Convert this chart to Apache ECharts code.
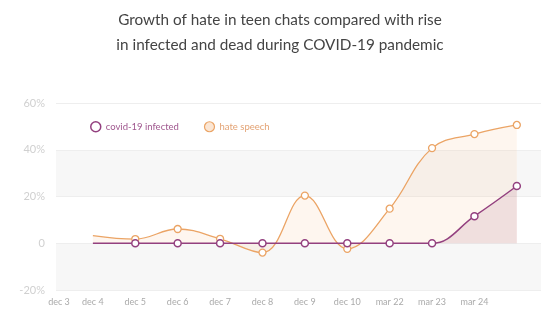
<!DOCTYPE html>
<html>
<head>
<meta charset="utf-8">
<script src="https://cdn.jsdelivr.net/npm/echarts@6/dist/echarts.min.js"></script>
<style>
html,body{margin:0;padding:0;background:#fff;}
#c{width:560px;height:326px;}
</style>
</head>
<body>
<div id="c"></div>
<script>
const titleLines = ['Growth of hate in teen chats compared with rise', 'in infected and dead during COVID-19 pandemic'];
const categories = ['dec 3','dec 4','dec 5','dec 6','dec 7','dec 8','dec 9','dec 10','mar 22','mar 23','mar 24',''];
const infected = [null, 0, 0, 0, 0, 0, 0, 0, 0, 0, 11.6, 24.5];
const hateSpeech = [null, 3.3, 1.8, 6.1, 1.9, -4.0, 20.4, -2.4, 14.8, 40.7, 46.7, 50.6];
const yTicks = [-20, 0, 20, 40, 60];

function toPoints(arr) {
  const out = [];
  let first = true;
  arr.forEach((v, i) => {
    if (v == null) return;
    if (first) { out.push({ value: [i, v], symbol: 'none' }); first = false; }
    else out.push([i, v]);
  });
  return out;
}

const purple = '#93407f';
const orange = '#eba465';

const chart = echarts.init(document.getElementById('c'));
chart.setOption({
  animation: false,
  backgroundColor: '#fff',
  title: {
    text: titleLines.join('\n'),
    left: 'center',
    top: 3,
    textStyle: { fontFamily: 'Lato', fontSize: 15.3, fontWeight: 'normal', color: '#444', lineHeight: 25 }
  },
  legend: {
    left: 85,
    top: 116,
    itemWidth: 10,
    itemHeight: 10,
    itemGap: 25,
    textStyle: { fontFamily: 'Lato', fontSize: 9.5 },
    data: [
      { name: 'covid-19 infected', icon: 'circle', itemStyle: { color: '#fff', borderColor: purple, borderWidth: 1.5 }, textStyle: { color: '#a0588f' } },
      { name: 'hate speech', icon: 'circle', itemStyle: { color: '#fbe6d4', borderColor: orange, borderWidth: 1.2 }, textStyle: { color: '#e3a273' } }
    ]
  },
  grid: { left: 56, right: 19, top: 103, bottom: 36 },
  xAxis: {
    type: 'value',
    min: 0.13,
    max: 11.57,
    axisLine: { show: false },
    axisTick: { show: false },
    splitLine: { show: false },
    axisLabel: {
      customValues: [0.2, 1, 2, 3, 4, 5, 6, 7, 8, 9, 10],
      formatter: v => categories[Math.round(v)],
      color: '#aaa',
      fontFamily: 'Lato',
      fontSize: 9,
      margin: 8
    }
  },
  yAxis: {
    type: 'value',
    min: yTicks[0],
    max: yTicks[yTicks.length - 1],
    interval: 20,
    axisLine: { show: false },
    axisTick: { show: false },
    axisLabel: {
      formatter: v => v === 0 ? '0' : v + '%',
      color: '#d0d0d0',
      fontFamily: 'Lato',
      fontSize: 11,
      margin: 11
    },
    splitLine: { lineStyle: { color: '#eeeeee', width: 1 } },
    splitArea: { show: true, areaStyle: { color: ['#f7f7f7', '#ffffff'] } }
  },
  series: [
    {
      name: 'hate speech',
      type: 'line',
      smooth: 0.4,
      data: toPoints(hateSpeech),
      symbol: 'circle',
      symbolSize: 7,
      itemStyle: { color: '#fff', borderColor: orange, borderWidth: 1.3 },
      lineStyle: { color: orange, width: 1.3 },
      areaStyle: { color: 'rgba(245,190,140,0.2)' },
      z: 2
    },
    {
      name: 'covid-19 infected',
      type: 'line',
      smooth: 0.4,
      data: toPoints(infected),
      symbol: 'circle',
      symbolSize: 7,
      itemStyle: { color: '#fff', borderColor: purple, borderWidth: 1.5 },
      lineStyle: { color: purple, width: 1.5 },
      areaStyle: { color: 'rgba(140,50,100,0.17)' },
      z: 3
    }
  ]
});
</script>
</body>
</html>
